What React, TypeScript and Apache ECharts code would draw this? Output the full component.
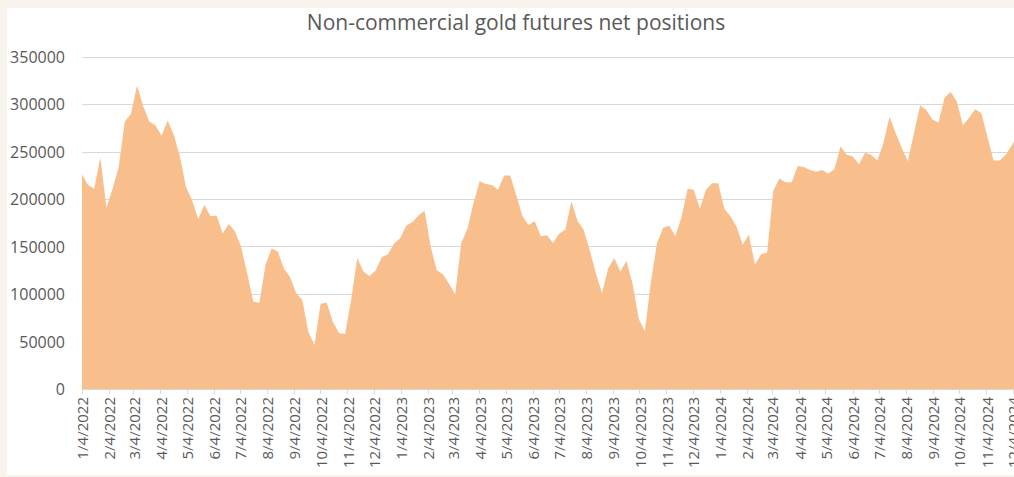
import { useEffect, useRef } from "react";
import * as echarts from "echarts";

const chartTitle = "Non-commercial gold futures net positions";
const firstReportDate = "1/4/2022";
const netPositions = [
  226000, 215000, 211000, 244000, 191000, 211000, 234000, 282000, 290000, 320000,
  298000, 282000, 278000, 267000, 283000, 268000, 245000, 213000, 199000, 179000,
  194000, 182000, 183000, 164000, 174000, 166000, 150000, 122000, 92000, 91000,
  131000, 148000, 145000, 127000, 118000, 101000, 94000, 60000, 46000, 90000,
  91000, 71000, 59000, 58000, 94000, 138000, 124000, 119000, 125000, 139000,
  142000, 153000, 159000, 172000, 176000, 183000, 188000, 150000, 125000, 121000,
  111000, 100000, 154000, 169000, 196000, 219000, 216000, 215000, 210000, 225000,
  225000, 204000, 182000, 173000, 177000, 161000, 162000, 154000, 164000, 168000,
  198000, 177000, 168000, 146000, 122000, 101000, 127000, 138000, 124000, 135000,
  111000, 74000, 61000, 113000, 154000, 170000, 172000, 161000, 181000, 211000,
  210000, 190000, 210000, 217000, 217000, 190000, 182000, 171000, 152000, 163000,
  131000, 142000, 144000, 209000, 222000, 218000, 218000, 235000, 234000, 231000,
  229000, 231000, 227000, 232000, 256000, 247000, 245000, 237000, 249000, 247000,
  241000, 259000, 287000, 270000, 254000, 240000, 270000, 299000, 294000, 284000,
  281000, 307000, 313000, 303000, 278000, 286000, 295000, 291000, 266000, 241000,
  241000, 247000, 257000, 268000,
];
const xTickLabels = [
  "1/4/2022", "2/4/2022", "3/4/2022", "4/4/2022", "5/4/2022", "6/4/2022",
  "7/4/2022", "8/4/2022", "9/4/2022", "10/4/2022", "11/4/2022", "12/4/2022",
  "1/4/2023", "2/4/2023", "3/4/2023", "4/4/2023", "5/4/2023", "6/4/2023",
  "7/4/2023", "8/4/2023", "9/4/2023", "10/4/2023", "11/4/2023", "12/4/2023",
  "1/4/2024", "2/4/2024", "3/4/2024", "4/4/2024", "5/4/2024", "6/4/2024",
  "7/4/2024", "8/4/2024", "9/4/2024", "10/4/2024", "11/4/2024", "12/4/2024",
];
const yMin = 0;
const yMax = 350000;
const yStep = 50000;

const DAY = 86400000;
function parseMDY(s: string): number {
  const [m, d, y] = s.split("/").map(Number);
  return Date.UTC(y, m - 1, d);
}
function fmtMDY(t: number): string {
  const d = new Date(t);
  return `${d.getUTCMonth() + 1}/${d.getUTCDate()}/${d.getUTCFullYear()}`;
}

export default function App() {
  const ref = useRef<HTMLDivElement>(null);
  useEffect(() => {
    document.documentElement.style.overflow = "hidden";
    document.body.style.margin = "0";
    document.body.style.overflow = "hidden";
    document.body.style.background = "#F8F4ED";
    if (!ref.current) return;
    const chart = echarts.init(ref.current, null, { renderer: "svg" });
    const start = parseMDY(firstReportDate);
    const seriesData = netPositions.map((v, i) => [start + i * 7 * DAY, v]);
    const tickValues = xTickLabels.map(parseMDY);
    const font = "'Open Sans', sans-serif";
    chart.setOption({
      animation: false,
      backgroundColor: "#ffffff",
      title: {
        text: chartTitle,
        left: "center",
        top: 3,
        padding: 0,
        textStyle: { color: "#595959", fontSize: 21, fontWeight: "normal", fontFamily: font },
      },
      grid: { left: 75, right: 7, top: 49, bottom: 86, containLabel: false },
      xAxis: {
        type: "value",
        min: start,
        max: start + (netPositions.length - 1) * 7 * DAY,
        axisLine: { show: true, lineStyle: { color: "#D9D9D9", width: 1 } },
        axisTick: { show: true, length: 5, customValues: tickValues, lineStyle: { color: "#D9D9D9" } },
        axisLabel: {
          customValues: tickValues,
          rotate: 90,
          margin: 8,
          color: "#595959",
          fontSize: 15,
          fontFamily: font,
          formatter: (v: number) => fmtMDY(v),
        },
        splitLine: { show: false },
      },
      yAxis: {
        type: "value",
        min: yMin,
        max: yMax,
        interval: yStep,
        axisLine: { show: false },
        axisTick: { show: false },
        axisLabel: {
          color: "#595959",
          fontSize: 16,
          fontFamily: font,
          margin: 17,
          formatter: (v: number) => String(v),
        },
        splitLine: { lineStyle: { color: "#D9D9D9", width: 1 } },
      },
      series: [
        {
          type: "line",
          data: seriesData,
          showSymbol: false,
          symbol: "none",
          lineStyle: { width: 0, color: "#F8BE8C" },
          itemStyle: { color: "#F8BE8C" },
          areaStyle: { color: "#F8BE8C", opacity: 1 },
        },
      ],
    });
    return () => chart.dispose();
  }, []);
  return (
    <div
      ref={ref}
      style={{ position: "absolute", left: 7, top: 8, width: 1018, height: 467, background: "#fff" }}
    />
  );
}
